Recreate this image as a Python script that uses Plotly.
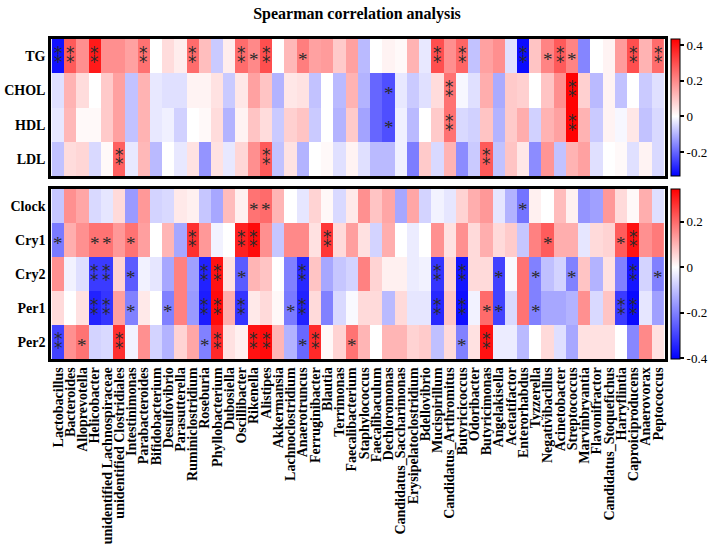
import plotly.graph_objects as go

genera = ["Lactobacillus", "Bacteroides", "Alloprevotella", "Helicobacter",
          "unidentified Lachnospiraceae", "unidentified Clostridiales", "Intestinimonas",
          "Parabacteroides", "Bifidobacterium", "Desulfovibrio", "Parasutterella",
          "Ruminiclostridium", "Roseburia", "Phyllobacterium", "Dubosiella", "Oscillibacter",
          "Rikenella", "Alistipes", "Akkermansia", "Lachnoclostridium", "Anaerotruncus",
          "Ferruginibacter", "Blautia", "Terrimonas", "Faecalibacterium", "Staphylococcus",
          "Faecalibaculum", "Dechloromonas", "Candidatus_Saccharimonas", "Erysipelatoclostridium",
          "Bdellovibrio", "Mucispirillum", "Candidatus_Arthromitus", "Butyricicoccus",
          "Odoribacter", "Butyricimonas", "Angelakisella", "Acetatifactor", "Enterorhabdus",
          "Tyzzerella", "Negativibacillus", "Acinetobacter", "Streptococcus", "Marvinbryantia",
          "Flavonifractor", "Candidatus_Stoquefichus", "Harryflintia", "Caproiciproducens",
          "Anaerovorax", "Peptococcus"]

top_rows = ["TG", "CHOL", "HDL", "LDL"]
bottom_rows = ["Clock", "Cry1", "Cry2", "Per1", "Per2"]

TG = [-0.31, 0.28, 0.19, 0.39, 0.19, 0.19, 0.16, 0.24, 0.00, 0.06,
      0.03, 0.25, 0.11, -0.07, 0.03, 0.25, 0.20, 0.30, 0.00, 0.12,
      0.22, 0.16, 0.17, 0.09, 0.16, -0.09, 0.00, 0.02, 0.01, 0.13,
      -0.03, 0.30, 0.19, 0.26, -0.08, 0.16, 0.19, -0.04, -0.32, 0.10,
      0.21, 0.28, 0.21, -0.16, 0.00, 0.02, 0.17, 0.30, 0.13, 0.25]
CHOL = [-0.04, 0.13, 0.06, 0.00, 0.09, 0.16, -0.08, 0.13, -0.03, -0.04,
        -0.04, 0.02, 0.02, 0.05, -0.07, 0.04, 0.16, 0.10, -0.10, 0.04,
        0.05, -0.08, 0.00, -0.09, 0.13, -0.10, -0.20, -0.23, -0.03, -0.07,
        -0.04, 0.06, 0.24, -0.01, -0.04, 0.14, -0.11, 0.09, 0.08, 0.00,
        0.10, 0.19, 0.43, 0.08, -0.09, 0.02, -0.08, 0.00, -0.07, -0.04]
HDL = [-0.03, 0.12, 0.01, 0.01, 0.09, 0.16, -0.08, 0.13, -0.03, -0.02,
       -0.06, 0.00, 0.01, 0.06, -0.10, 0.02, 0.10, 0.06, -0.07, 0.08,
       0.10, -0.07, 0.00, -0.10, 0.09, -0.12, -0.20, -0.23, -0.02, -0.09,
       0.00, 0.09, 0.24, -0.05, -0.06, 0.10, -0.10, 0.09, 0.14, -0.06,
       0.13, 0.16, 0.43, 0.13, -0.07, 0.02, -0.01, 0.04, -0.08, -0.05]
LDL = [-0.08, 0.06, 0.07, -0.05, 0.01, 0.27, -0.03, 0.12, -0.09, 0.00,
       -0.03, 0.05, -0.14, 0.05, -0.03, 0.07, 0.19, 0.28, -0.08, 0.05,
       -0.10, 0.00, 0.01, -0.04, 0.02, -0.04, -0.09, -0.09, -0.02, -0.17,
       0.09, -0.05, 0.13, -0.15, -0.07, 0.28, -0.08, 0.10, 0.04, -0.15,
       0.18, -0.08, 0.13, 0.16, -0.04, 0.00, 0.01, -0.04, 0.02, -0.05]

Clock = [-0.09, 0.15, 0.12, -0.06, -0.04, 0.05, -0.16, 0.14, -0.07, -0.06,
         0.03, 0.02, -0.09, -0.14, 0.09, 0.02, 0.19, 0.20, 0.10, 0.00,
         -0.04, 0.06, 0.01, -0.06, 0.03, 0.15, 0.08, 0.12, -0.14, 0.12,
         -0.07, -0.02, -0.04, 0.06, 0.11, 0.14, -0.04, -0.12, -0.22, 0.02,
         0.00, 0.09, 0.02, -0.17, -0.15, 0.14, 0.05, 0.01, 0.11, -0.05]
Cry1 = [-0.21, 0.11, 0.15, 0.19, 0.19, 0.14, 0.19, 0.13, 0.00, 0.10,
        -0.14, 0.28, 0.14, -0.02, 0.00, 0.30, 0.33, 0.15, -0.09, 0.16,
        0.16, 0.04, 0.27, 0.05, 0.13, 0.04, -0.07, 0.11, 0.00, -0.03,
        0.00, 0.15, 0.04, 0.15, 0.05, 0.11, 0.05, 0.07, -0.09, 0.17,
        0.22, 0.11, 0.11, -0.04, 0.05, 0.06, 0.22, 0.32, 0.15, 0.18]
Cry2 = [0.15, -0.02, -0.05, -0.31, -0.31, 0.06, -0.26, -0.02, -0.04, -0.14,
        0.17, -0.15, -0.35, 0.32, 0.04, -0.26, 0.10, 0.08, 0.00, -0.20,
        -0.34, 0.08, -0.14, -0.09, -0.07, 0.17, 0.06, 0.02, 0.02, -0.03,
        -0.02, -0.32, 0.06, -0.37, 0.05, 0.05, -0.30, -0.01, 0.19, -0.20,
        -0.10, -0.07, -0.20, 0.08, -0.12, 0.04, -0.20, -0.37, -0.07, -0.20]
Per1 = [0.05, 0.00, 0.04, -0.35, -0.32, 0.13, -0.20, 0.03, 0.00, -0.20,
        0.17, -0.16, -0.36, 0.33, 0.11, -0.32, 0.03, 0.05, 0.01, -0.21,
        -0.35, 0.05, -0.20, -0.06, -0.01, 0.05, 0.05, -0.11, 0.05, -0.04,
        -0.04, -0.34, 0.08, -0.38, -0.02, 0.20, -0.30, -0.06, 0.19, -0.20,
        -0.14, -0.14, -0.12, 0.15, -0.06, 0.08, -0.31, -0.39, -0.04, -0.15]
Per2 = [-0.30, 0.15, 0.19, -0.07, -0.06, 0.28, -0.02, 0.15, -0.07, -0.12,
        0.06, 0.12, -0.20, 0.29, 0.04, 0.02, 0.32, 0.33, 0.10, -0.12,
        -0.24, 0.29, 0.01, 0.06, 0.19, 0.10, 0.00, 0.10, 0.10, 0.06,
        0.07, -0.10, 0.05, -0.20, 0.04, 0.32, -0.03, -0.03, -0.11, 0.00,
        0.05, -0.05, -0.14, 0.04, 0.04, 0.04, 0.00, -0.19, 0.16, 0.04]

# significance level per cell: 0 none, 1 = *, 2 = **
TG_sig = [2, 2, 0, 2, 0, 0, 0, 2, 0, 0,
          0, 2, 0, 0, 0, 2, 1, 2, 0, 0,
          1, 0, 0, 0, 0, 0, 0, 0, 0, 0,
          0, 2, 0, 2, 0, 0, 0, 0, 2, 0,
          1, 2, 1, 0, 0, 0, 0, 2, 0, 2]
CHOL_sig = [0] * 27 + [1] + [0] * 4 + [2] + [0] * 9 + [2] + [0] * 7
HDL_sig = [0] * 27 + [1] + [0] * 4 + [2] + [0] * 9 + [2] + [0] * 7
LDL_sig = [0] * 5 + [2] + [0] * 11 + [2] + [0] * 17 + [2] + [0] * 14
Clock_sig = [0] * 16 + [1, 1] + [0] * 20 + [1] + [0] * 11
Cry1_sig = [1, 0, 0, 1, 1, 0, 1, 0, 0, 0,
            0, 2, 0, 0, 0, 2, 2, 0, 0, 0,
            0, 0, 2, 0, 0, 0, 0, 0, 0, 0,
            0, 0, 0, 0, 0, 0, 0, 0, 0, 0,
            1, 0, 0, 0, 0, 0, 1, 2, 0, 0]
Cry2_sig = [0, 0, 0, 2, 2, 0, 1, 0, 0, 0,
            0, 0, 2, 2, 0, 1, 0, 0, 0, 0,
            2, 0, 0, 0, 0, 0, 0, 0, 0, 0,
            0, 2, 0, 2, 0, 0, 1, 0, 0, 1,
            0, 0, 1, 0, 0, 0, 0, 2, 0, 1]
Per1_sig = [0, 0, 0, 2, 2, 0, 1, 0, 0, 1,
            0, 0, 2, 2, 0, 2, 0, 0, 0, 1,
            2, 0, 0, 0, 0, 0, 0, 0, 0, 0,
            0, 2, 0, 2, 0, 1, 1, 0, 0, 1,
            0, 0, 0, 0, 0, 0, 2, 2, 0, 0]
Per2_sig = [2, 0, 1, 0, 0, 2, 0, 0, 0, 0,
            0, 0, 1, 2, 0, 0, 2, 2, 0, 0,
            1, 2, 0, 0, 1, 0, 0, 0, 0, 0,
            0, 0, 0, 1, 0, 2, 0, 0, 0, 0,
            0, 0, 0, 0, 0, 0, 0, 0, 0, 0]

top_z = [TG, CHOL, HDL, LDL]
bottom_z = [Clock, Cry1, Cry2, Per1, Per2]
top_sig = [TG_sig, CHOL_sig, HDL_sig, LDL_sig]
bottom_sig = [Clock_sig, Cry1_sig, Cry2_sig, Per1_sig, Per2_sig]

top_range = (-0.334, 0.434)
bottom_range = (-0.404, 0.345)


def diverging(lo, hi):
    mid = (0 - lo) / (hi - lo)
    return [[0, "rgb(0,0,255)"], [mid, "rgb(255,255,255)"], [1, "rgb(255,0,0)"]]


serif = "Liberation Serif"
fig = go.Figure()

cb_common = dict(thickness=9, outlinewidth=1, outlinecolor="black",
                 ticks="outside", ticklen=4, tickwidth=1.5, tickcolor="black",
                 tickfont=dict(family=serif, size=13, color="black"),
                 xanchor="left", x=1.01, lenmode="fraction", yref="paper", ypad=0, xpad=0)

fig.add_trace(go.Heatmap(
    z=top_z, x=genera, y=top_rows, xaxis="x2", yaxis="y2",
    zmin=top_range[0], zmax=top_range[1], colorscale=diverging(*top_range),
    hoverinfo="skip",
    colorbar=dict(**cb_common, y=1.0, yanchor="top", len=137 / 320,
                  tickvals=[0.4, 0.2, 0, -0.2], ticktext=["0.4", "0.2", "0", "-0.2"])))
fig.add_trace(go.Heatmap(
    z=bottom_z, x=genera, y=bottom_rows, xaxis="x", yaxis="y",
    zmin=bottom_range[0], zmax=bottom_range[1], colorscale=diverging(*bottom_range),
    hoverinfo="skip",
    colorbar=dict(**cb_common, y=0.0, yanchor="bottom", len=170 / 320,
                  tickvals=[0.2, 0, -0.2, -0.4], ticktext=["0.2", "0", "-0.2", "-0.4"])))

annotations = []
one_star = dict(family=serif, size=19, color="#2a2a2a")
two_star = dict(family="DejaVu Sans", size=17, color="#2a2a2a")


def add_stars(rows, sigs, xref, yref):
    for r, row in enumerate(rows):
        for c, g in enumerate(genera):
            s = sigs[r][c]
            if s == 0:
                continue
            if s == 1:
                annotations.append(dict(x=g, y=row, xref=xref, yref=yref, text="*",
                                        showarrow=False, font=one_star, yshift=-3))
            else:
                annotations.append(dict(x=g, y=row, xref=xref, yref=yref, text="\u2051",
                                        showarrow=False, font=two_star, yshift=0))


add_stars(top_rows, top_sig, "x2", "y2")
add_stars(bottom_rows, bottom_sig, "x", "y")

axis_line = dict(showline=True, linecolor="black", linewidth=2.5, mirror=True,
                 ticks="", showgrid=False, zeroline=False)

fig.update_layout(
    width=714, height=553,
    margin=dict(l=51, r=49, t=39, b=194, autoexpand=False),
    paper_bgcolor="white", plot_bgcolor="white",
    title=dict(text="Spearman correlation analysis", x=0.5, xanchor="center",
               y=1 - 13 / 553, yanchor="middle", yref="container",
               font=dict(family=serif, size=16, color="black", weight="bold")),
    xaxis=dict(**axis_line, domain=[0, 1], anchor="y", tickangle=-90,
               tickmode="linear", tick0=0, dtick=1,
               tickfont=dict(family=serif, size=14, color="black", weight="bold")),
    yaxis=dict(**axis_line, domain=[0, 170 / 320], anchor="x", autorange="reversed",
               tickfont=dict(family=serif, size=14, color="black", weight="bold")),
    xaxis2=dict(**axis_line, domain=[0, 1], anchor="y2", matches="x", showticklabels=False),
    yaxis2=dict(**axis_line, domain=[183 / 320, 1], anchor="x2", autorange="reversed",
                tickfont=dict(family=serif, size=14, color="black", weight="bold")),
    annotations=annotations,
    showlegend=False,
)

fig.write_html("out.html", config={"displayModeBar": False},
               post_script="document.body.style.margin='0px';")
